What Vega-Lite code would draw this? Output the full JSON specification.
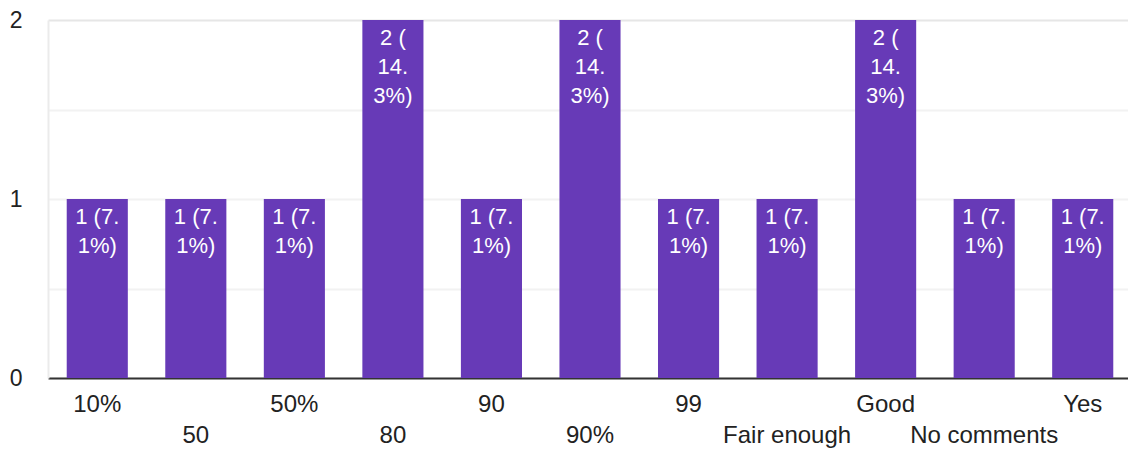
{
  "$schema": "https://vega.github.io/schema/vega-lite/v6.json",
  "width": 1084,
  "height": 358,
  "autosize": {"type": "none"},
  "padding": {"left": 48, "top": 20, "right": 0, "bottom": 75},
  "background": "white",
  "config": {"view": {"stroke": null}, "font": "Liberation Sans"},
  "data": {"values": [
    {"answer": "10%", "count": 1, "label": "1 (7.\n1%)"},
    {"answer": "50", "count": 1, "label": "1 (7.\n1%)"},
    {"answer": "50%", "count": 1, "label": "1 (7.\n1%)"},
    {"answer": "80", "count": 2, "label": "2 (\n14.\n3%)"},
    {"answer": "90", "count": 1, "label": "1 (7.\n1%)"},
    {"answer": "90%", "count": 2, "label": "2 (\n14.\n3%)"},
    {"answer": "99", "count": 1, "label": "1 (7.\n1%)"},
    {"answer": "Fair enough", "count": 1, "label": "1 (7.\n1%)"},
    {"answer": "Good", "count": 2, "label": "2 (\n14.\n3%)"},
    {"answer": "No comments", "count": 1, "label": "1 (7.\n1%)"},
    {"answer": "Yes", "count": 1, "label": "1 (7.\n1%)"}
  ]},
  "encoding": {
    "x": {
      "field": "answer", "type": "nominal", "sort": null,
      "scale": {"paddingInner": 0.38, "paddingOuter": 0.19},
      "axis": {
        "title": null, "labelAngle": 0, "ticks": false,
        "domainColor": "#333333", "domainWidth": 2,
        "labelFontSize": 24, "labelColor": "#222222", "labelFont": "Liberation Sans",
        "labelPadding": {"condition": {"test": "indexof(['50','80','90%','Fair enough','No comments'], datum.value) >= 0", "value": 45}, "value": 14},
        "labelOverlap": false, "labelLimit": 300
      }
    },
    "y": {
      "field": "count", "type": "quantitative",
      "scale": {"domain": [0, 2], "nice": false},
      "axis": {
        "title": null, "values": [0, 0.5, 1, 1.5, 2], "ticks": false,
        "labelExpr": "datum.value % 1 == 0 ? format(datum.value, 'd') : ''",
        "labelFontSize": 23, "labelColor": "#222222", "labelPadding": 26,
        "domainColor": "#ebebeb", "domainWidth": 2,
        "gridColor": {"condition": {"test": "datum.value == 2", "value": "#e6e6e6"}, "value": "#f2f2f2"},
        "gridWidth": 2
      }
    }
  },
  "layer": [
    {"mark": {"type": "bar", "color": "#673ab7"}},
    {
      "mark": {"type": "text", "color": "white", "fontSize": 22, "baseline": "top", "dy": 8, "lineBreak": "\n", "lineHeight": 29, "align": "center"},
      "encoding": {"text": {"field": "label"}}
    }
  ]
}
